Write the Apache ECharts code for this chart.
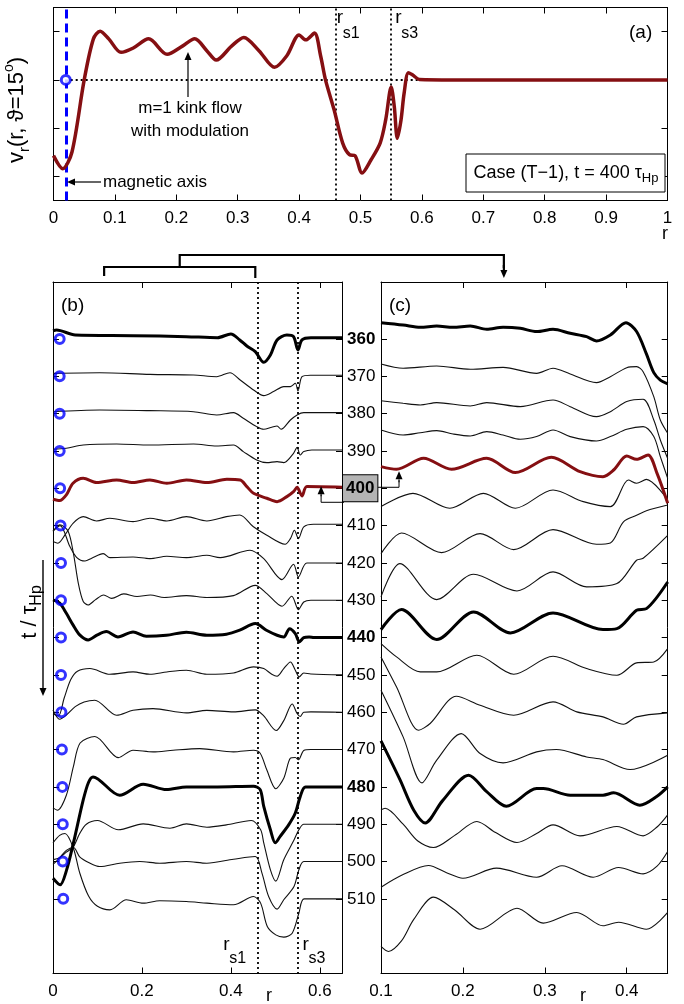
<!DOCTYPE html>
<html>
<head>
<meta charset="utf-8">
<script src="https://cdn.jsdelivr.net/npm/echarts@6/dist/echarts.min.js"></script>
<style>
html,body{margin:0;padding:0;background:#fff;}
#chart{width:684px;height:1004px;}
</style>
</head>
<body>
<div id="chart"></div>
<script>
// ================= DATA =================
const rS1 = 0.455, rS3 = 0.55;          // rational surfaces
const magAxisA = 0.02;                  // magnetic axis position, panel (a)

// panel (a): v_r(r, theta=15deg) at t = 400
const profileA = [[0,-1.57],[0.015,-1.84],[0.03,-1.5],[0.05,0],[0.065,0.85],[0.076,1.01],[0.09,0.85],[0.11,0.57],[0.13,0.66],[0.155,0.85],[0.185,0.53],[0.21,0.7],[0.23,0.85],[0.25,0.6],[0.265,0.41],[0.29,0.7],[0.31,0.88],[0.335,0.6],[0.36,0.26],[0.38,0.5],[0.4,0.93],[0.411,0.83],[0.425,0.97],[0.435,0.5],[0.443,0],[0.457,-0.62],[0.471,-1.31],[0.482,-1.55],[0.491,-1.57],[0.5025,-1.93],[0.517,-1.66],[0.532,-1.31],[0.541,-0.83],[0.55,-0.15],[0.555,-0.55],[0.56,-1.21],[0.566,-0.83],[0.571,-0.28],[0.578,0.15],[0.585,0.1],[0.596,0.01],[0.65,0],[1,0]];

const times = [360,370,380,390,400,410,420,430,440,450,460,470,480,490,500,510];
const boldTimes = [360,400,440,480];
const highlightTime = 400;
const magAxisB = [0.015,0.015,0.015,0.015,0.016,0.017,0.018,0.018,0.018,0.018,0.019,0.02,0.021,0.022,0.022,0.023];

// panel (b): profiles over 0 <= r <= 0.65
const b360 = [[0,0.89],[0.008,0.96],[0.05,0.43],[0.18,0.36],[0.3,0.25],[0.37,0.14],[0.4,0.54],[0.42,-0.1],[0.436,-0.75],[0.455,-1.36],[0.474,-2.5],[0.489,-1.71],[0.504,-0.1],[0.526,0.43],[0.541,0.25],[0.551,-1.18],[0.56,-0.1],[0.58,0.12],[0.65,0.12]];
const b370 = [[0,0.32],[0.105,0.39],[0.218,0.21],[0.316,0.14],[0.368,-0.04],[0.398,0.39],[0.421,-0.39],[0.451,-1.46],[0.474,-2.07],[0.496,-1.64],[0.519,-1.1],[0.534,-1.1],[0.545,-0.75],[0.551,-1.57],[0.56,-0.04],[0.579,0.12],[0.65,0.12]];
const b380 = [[0,0.21],[0.105,0.39],[0.218,0.32],[0.316,0.21],[0.368,-0.14],[0.406,0.11],[0.428,-0.5],[0.458,-1.39],[0.474,-1.68],[0.492,-1.46],[0.504,-1.32],[0.513,-1.68],[0.534,-0.68],[0.549,-0.14],[0.564,0.11],[0.65,0.11]];
const b390 = [[0,0.18],[0.03,0.29],[0.068,0.64],[0.143,0.75],[0.218,0.64],[0.316,0.75],[0.368,0.54],[0.406,0.64],[0.428,-0.07],[0.458,-0.96],[0.481,-1.25],[0.504,-1.14],[0.519,-1.25],[0.541,-0.25],[0.549,0.39],[0.556,-0.43],[0.564,-0.07],[0.582,0.11],[0.65,0.11]];
const b400 = [[0,-1.18],[0.015,-1.32],[0.03,-0.71],[0.045,0.54],[0.068,1.07],[0.098,0.61],[0.143,0.89],[0.18,0.61],[0.218,0.89],[0.256,0.54],[0.3,0.89],[0.346,0.61],[0.391,0.96],[0.421,0.89],[0.436,0.18],[0.451,-0.54],[0.481,-1.07],[0.504,-1.43],[0.526,-0.89],[0.541,-0.36],[0.549,0.11],[0.56,-0.82],[0.571,0.18],[0.65,0.11]];
const b410 = [[0,-1.71],[0.011,-1.89],[0.027,-1.0],[0.045,0.25],[0.068,0.96],[0.098,0.5],[0.128,0.79],[0.18,0.43],[0.218,0.79],[0.256,0.5],[0.3,0.96],[0.346,0.5],[0.39,0.96],[0.42,1.14],[0.45,-0.1],[0.481,-1.04],[0.522,-2.0],[0.534,-1.39],[0.543,-0.5],[0.552,-1.39],[0.564,-0.14],[0.586,0.14],[0.65,0.14]];
const b420 = [[0,3.4],[0.016,4.0],[0.038,1.75],[0.053,0.6],[0.072,0.2],[0.087,0.5],[0.113,1.0],[0.128,0.57],[0.18,0.64],[0.218,0.46],[0.256,0.71],[0.3,0.57],[0.346,0.82],[0.376,0.57],[0.443,1.36],[0.474,0.46],[0.515,-1.79],[0.541,-0.14],[0.552,-1.5],[0.571,0],[0.65,0]];
const b430 = [[0,7.4],[0.015,8.1],[0.034,7.4],[0.046,5.0],[0.057,1.8],[0.068,-0.14],[0.079,-0.5],[0.095,0.04],[0.114,0.57],[0.132,0.2],[0.159,0.68],[0.189,0.4],[0.219,0.57],[0.25,0.3],[0.3,0.5],[0.346,0.3],[0.406,0.5],[0.455,1.6],[0.481,0.71],[0.515,-0.64],[0.537,0.43],[0.552,-1.0],[0.564,-0.18],[0.58,0],[0.65,0]];
const b440 = [[0,4.04],[0.015,3.7],[0.03,2.6],[0.045,1.36],[0.06,0.29],[0.079,-0.25],[0.1,0.29],[0.12,0.64],[0.146,0.07],[0.18,0.6],[0.21,0.14],[0.255,0.25],[0.3,0.57],[0.346,0.25],[0.39,0.36],[0.42,0.79],[0.455,1.5],[0.48,0.79],[0.504,0.25],[0.519,0.07],[0.532,0.96],[0.545,0.43],[0.554,-0.46],[0.564,0],[0.576,0.07],[0.587,0],[0.65,0]];
const b450 = [[0,-4.2],[0.012,-4.4],[0.025,-2.5],[0.04,-0.5],[0.055,0.4],[0.083,0.68],[0.128,0.07],[0.18,0.32],[0.218,0.07],[0.256,0.32],[0.3,0.5],[0.346,0.07],[0.406,0.2],[0.451,0.86],[0.474,0.68],[0.492,0.07],[0.504,-0.14],[0.519,0.68],[0.534,1.39],[0.545,0.5],[0.554,-0.21],[0.564,0.21],[0.58,0.1],[0.65,0]];
const b460 = [[0,0.25],[0.015,-0.75],[0.03,-0.3],[0.05,0.6],[0.07,1.1],[0.094,1.29],[0.143,-0.32],[0.18,0.21],[0.225,0.39],[0.3,-0.07],[0.346,0.2],[0.406,0.04],[0.455,0.25],[0.474,-0.4],[0.502,-1.96],[0.519,-0.9],[0.538,0.89],[0.549,-0.14],[0.556,-0.45],[0.564,0],[0.58,0.04],[0.65,0]];
const b470 = [[0,-6.25],[0.01,-6.5],[0.03,-4.9],[0.046,-1.8],[0.061,0.7],[0.094,1.4],[0.147,-0.86],[0.18,-0.07],[0.225,-0.25],[0.27,-0.07],[0.33,0.1],[0.406,-0.25],[0.451,-0.07],[0.466,-0.4],[0.481,-2.2],[0.501,-4.2],[0.519,-3.07],[0.534,-0.93],[0.545,-0.85],[0.552,-1.1],[0.564,-0.1],[0.58,0],[0.65,0]];
const b480 = [[0,-9.8],[0.016,-10.5],[0.03,-9.0],[0.046,-6.0],[0.068,-1.4],[0.08,0.5],[0.09,1.07],[0.15,-0.9],[0.203,0.29],[0.255,-0.29],[0.3,0],[0.37,0],[0.451,0.07],[0.466,-0.3],[0.474,-2.1],[0.489,-4.6],[0.5,-6.0],[0.511,-5.3],[0.53,-4.07],[0.545,-2.8],[0.556,-1.04],[0.568,0],[0.65,0]];
const b490 = [[0,-3.8],[0.015,-3.6],[0.03,-3.0],[0.046,-2.4],[0.06,-1.0],[0.075,0],[0.1,0.39],[0.147,-0.6],[0.203,0.04],[0.263,-0.43],[0.3,0.04],[0.346,-0.32],[0.39,-0.07],[0.446,0.4],[0.467,-0.6],[0.474,-2.0],[0.489,-4.9],[0.501,-6.1],[0.519,-3.8],[0.542,-1.7],[0.553,-0.6],[0.564,0],[0.65,0]];
const b500 = [[0,-0.3],[0.015,0.4],[0.03,1.2],[0.046,1.5],[0.06,0.5],[0.08,-0.1],[0.105,-0.54],[0.15,-0.18],[0.195,0],[0.24,-0.18],[0.3,0],[0.346,-0.18],[0.406,0.25],[0.455,0.54],[0.47,-1.25],[0.485,-3.75],[0.504,-5.1],[0.519,-4.1],[0.542,-2.68],[0.553,-0.89],[0.564,0],[0.65,0]];
const b510 = [[0,6.0],[0.015,6.8],[0.027,7.0],[0.046,5.4],[0.06,2.8],[0.08,0.3],[0.1,-0.8],[0.128,-1.18],[0.165,-0.1],[0.203,-0.46],[0.24,-0.2],[0.3,-0.29],[0.346,-0.46],[0.406,-0.64],[0.451,0.25],[0.467,-0.46],[0.482,-2.96],[0.501,-3.86],[0.519,-4.1],[0.538,-3.68],[0.553,-1.54],[0.565,0],[0.65,0]];

// panel (c): enlarged profiles over 0.1 <= r <= 0.45
const c360 = [[0.1,1.75],[0.127,1.5],[0.148,1.25],[0.168,1.39],[0.188,1.25],[0.209,1.39],[0.229,1.04],[0.249,1.25],[0.27,1.14],[0.29,0.79],[0.31,1.04],[0.331,0.61],[0.351,0.25],[0.363,-0.21],[0.38,0.43],[0.399,1.75],[0.412,0.8],[0.424,-1.6],[0.433,-3.6],[0.441,-4.4],[0.45,-4.8]];
const c370 = [[0.1,1.32],[0.127,0.86],[0.168,1.11],[0.209,0.75],[0.249,0.96],[0.29,0.32],[0.31,0.86],[0.331,0.25],[0.363,-0.68],[0.38,-0.04],[0.4,0.93],[0.412,1.04],[0.42,0.5],[0.433,-2.18],[0.441,-4.68],[0.45,-6.1]];
const c380 = [[0.1,1.39],[0.127,1.11],[0.148,0.93],[0.168,1.18],[0.209,0.82],[0.229,1.18],[0.27,0.75],[0.31,1.46],[0.331,0.75],[0.363,-0.32],[0.38,0.21],[0.4,1.29],[0.42,1.54],[0.433,-0.68],[0.441,-2.82],[0.45,-4.8]];
const c390 = [[0.1,2.25],[0.127,1.71],[0.148,1.96],[0.168,2.18],[0.188,1.82],[0.209,1.61],[0.229,2.07],[0.249,1.71],[0.27,1.25],[0.29,1.54],[0.31,2.25],[0.331,1.54],[0.363,1.07],[0.38,1.54],[0.4,2.32],[0.42,2.61],[0.433,1.54],[0.441,-0.61],[0.45,-2.93]];
const c400 = [[0.1,2.32],[0.119,2.04],[0.152,3.21],[0.186,2.04],[0.229,3.21],[0.264,1.68],[0.308,3.32],[0.343,1.79],[0.371,1.25],[0.384,1.96],[0.4,3.46],[0.412,3.1],[0.426,3.57],[0.437,1.6],[0.45,-1.6]];
const c410 = [[0.1,2.04],[0.139,3.46],[0.184,1.86],[0.225,3.46],[0.264,1.86],[0.31,3.82],[0.347,2.57],[0.38,2.04],[0.402,4.89],[0.412,4.54],[0.424,4.96],[0.45,2.75]];
const c420 = [[0.1,1.0],[0.125,3.21],[0.174,1.11],[0.221,3.14],[0.262,1.43],[0.31,3.57],[0.363,2.0],[0.38,2.14],[0.396,4.4],[0.412,5.1],[0.424,5.6],[0.45,6.2]];
const c430 = [[0.1,0.36],[0.123,3.93],[0.168,0.07],[0.213,2.79],[0.266,1.0],[0.31,3.04],[0.351,1.43],[0.388,1.79],[0.412,4.29],[0.42,4.5],[0.45,6.96]];
const c440 = [[0.1,0.86],[0.125,3.0],[0.168,-0.21],[0.213,2.75],[0.258,0.5],[0.31,2.64],[0.371,0.86],[0.388,0.96],[0.412,2.93],[0.424,3.1],[0.45,5.96]];
const c450 = [[0.1,3.36],[0.119,1.93],[0.148,0.32],[0.168,0.32],[0.217,2.11],[0.262,0.07],[0.31,2.0],[0.351,0.68],[0.388,-0.04],[0.412,1.29],[0.433,1.39],[0.45,2.82]];
const c460 = [[0.1,5.93],[0.119,2.71],[0.146,-1.93],[0.16,-1.21],[0.192,1.71],[0.221,0.75],[0.262,-0.32],[0.31,1.11],[0.339,0.04],[0.371,-0.5],[0.396,-1.29],[0.412,-0.5],[0.45,-0.07]];
const c470 = [[0.1,6.36],[0.127,1.36],[0.15,-3.57],[0.168,-1.14],[0.198,1.71],[0.221,-0.43],[0.249,-1.43],[0.29,-0.25],[0.314,0],[0.351,-0.79],[0.371,-1.07],[0.404,-2.14],[0.45,-0.61]];
const c480 = [[0.1,4.93],[0.123,0.8],[0.14,-2.5],[0.154,-3.86],[0.175,-1.5],[0.207,1.25],[0.229,-0.5],[0.253,-2.07],[0.29,-0.18],[0.298,-0.18],[0.331,-0.89],[0.371,-0.89],[0.384,-0.64],[0.416,-1.96],[0.437,-1.0],[0.45,0]];
const c490 = [[0.1,1.54],[0.105,1.71],[0.127,0],[0.145,-1.8],[0.164,-2.5],[0.19,-1.2],[0.217,0.29],[0.24,-0.9],[0.266,-1.96],[0.29,-1.0],[0.31,-0.07],[0.343,-1.25],[0.388,-0.25],[0.42,-1.25],[0.437,-0.3],[0.45,1.0]];
const c500 = [[0.1,-2.75],[0.127,-1.4],[0.158,-0.43],[0.18,-1.2],[0.2,-1.79],[0.241,-0.71],[0.29,-1.68],[0.321,-0.46],[0.359,-1.68],[0.39,-0.64],[0.42,-1.32],[0.437,-0.5],[0.45,1.07]];
const c510 = [[0.1,-5.1],[0.109,-5.64],[0.125,-4.5],[0.14,-2.2],[0.164,0.18],[0.19,-1.2],[0.221,-3.25],[0.266,-1.0],[0.298,-2.6],[0.339,-1.46],[0.371,-2.89],[0.39,-2.5],[0.424,-3.25],[0.45,-1.46]];

// ticks
const yTicksA = [-2,-1,0,1];

// ================= CHART =================
const profilesB = {360:b360,370:b370,380:b380,390:b390,400:b400,410:b410,420:b420,430:b430,440:b440,450:b450,460:b460,470:b470,480:b480,490:b490,500:b500,510:b510};
const profilesC = {360:c360,370:c370,380:c380,390:c390,400:c400,410:c410,420:c420,430:c430,440:c440,450:c450,460:c460,470:c470,480:c480,490:c490,500:c500,510:c510};

const FONT = '"Liberation Sans", Arial, Helvetica, sans-serif';
const RED = '#850f12';
const BLUE = '#0000ff';
const AMP = 2.5;              // vertical offset units per unit of v in the waterfall panels
const T_MIN = 344.73, T_MAX = 530.0;

const chart = echarts.init(document.getElementById('chart'));

const tick = {show:true, inside:true, length:6, lineStyle:{color:'#000', width:1}};
const aline = {show:true, onZero:false, lineStyle:{color:'#000', width:1}};
const lab = {color:'#000', fontSize:17, fontFamily:FONT, margin:9};

function xAx(grid, pos, min, max, interval, showLabel) {
  return {type:'value', gridIndex:grid, position:pos, min:min, max:max, interval:interval,
    axisLine:aline, axisTick:tick, splitLine:{show:false},
    axisLabel: showLabel ? Object.assign({}, lab, {showMaxLabel:false}) : {show:false}};
}
function yAxT(grid, pos) {
  return {type:'value', gridIndex:grid, position:pos, min:T_MIN, max:T_MAX, inverse:true,
    axisLine:aline, axisTick:Object.assign({}, tick, {customValues:times}), splitLine:{show:false},
    axisLabel:{show:false}};
}

const xAxes = [
  Object.assign(xAx(0,'bottom',0,1,0.1,true), {axisLabel:Object.assign({}, lab)}),
  xAx(0,'top',0,1,0.1,false),
  xAx(1,'bottom',0,0.65,0.2,true),
  xAx(1,'top',0,0.65,0.2,false),
  xAx(2,'bottom',0.1,0.45,0.1,true),
  xAx(2,'top',0.1,0.45,0.1,false)
];
const yAxes = [
  {type:'value', gridIndex:0, position:'left', min:-2.5, max:1.5, axisLine:aline,
   axisTick:Object.assign({}, tick, {customValues:yTicksA}), axisLabel:{show:false}, splitLine:{show:false}},
  {type:'value', gridIndex:0, position:'right', min:-2.5, max:1.5, axisLine:aline,
   axisTick:Object.assign({}, tick, {customValues:yTicksA}), axisLabel:{show:false}, splitLine:{show:false}},
  yAxT(1,'left'),
  Object.assign(yAxT(1,'right'), {axisLabel:{show:true, customValues:times, margin:1,
    formatter: function(v){ const t = Math.round(v);
      if (t === highlightTime) return '{box|' + t + '}';
      if (boldTimes.indexOf(t) >= 0) return '{bold|' + t + '}';
      return '{norm|' + t + '}'; },
    rich:{
      norm:{fontSize:17, color:'#000', fontFamily:FONT, padding:[0,0,0,4]},
      bold:{fontSize:17, color:'#000', fontFamily:FONT, fontWeight:'bold', padding:[0,0,0,4]},
      box:{fontSize:17, color:'#000', fontFamily:FONT, fontWeight:'bold', backgroundColor:'#b4b4b4',
           borderColor:'#000', borderWidth:1, padding:[5,3,4,3]}
    }}}),
  yAxT(2,'left'),
  yAxT(2,'right')
];

const dotted = {type:[2,3], color:'#000', width:1.8};
const circleStyle = {color:'rgba(255,255,255,0)', borderColor:BLUE, borderWidth:3};
const series = [];

series.push({type:'line', name:'a', xAxisIndex:0, yAxisIndex:0, data:profileA, smooth:0.3,
  symbol:'none', lineStyle:{color:RED, width:3.5}, z:5,
  markLine:{silent:true, symbol:['none','none'], label:{show:false}, animation:false,
    data:[
      {xAxis:rS1, lineStyle:dotted},
      {xAxis:rS3, lineStyle:dotted},
      [{coord:[0.028,0], lineStyle:dotted},{coord:[1,0]}],
      {xAxis:magAxisA, lineStyle:{type:[9,5], color:BLUE, width:3}}
    ]}});
series.push({type:'scatter', xAxisIndex:0, yAxisIndex:0, data:[[magAxisA,0]],
  symbol:'circle', symbolSize:9, itemStyle:{color:'#fff', borderColor:BLUE, borderWidth:3}, z:10});

function styleFor(t) {
  if (t === highlightTime) return {color:RED, width:3};
  if (boldTimes.indexOf(t) >= 0) return {color:'#000', width:3};
  return {color:'#111', width:1.1};
}
times.forEach(function(t, i) {
  const st = styleFor(t);
  const zz = t === highlightTime ? 5 : (boldTimes.indexOf(t) >= 0 ? 4 : 3);
  const sB = {type:'line', xAxisIndex:2, yAxisIndex:2, smooth:0.3, symbol:'none', z:zz,
    lineStyle:st, data:profilesB[t].map(function(p){ return [p[0], t - AMP*p[1]]; })};
  if (i === 0) {
    sB.markLine = {silent:true, symbol:['none','none'], label:{show:false}, animation:false,
      data:[{xAxis:rS1, lineStyle:dotted},{xAxis:rS3, lineStyle:dotted}]};
  }
  series.push(sB);
  series.push({type:'line', xAxisIndex:4, yAxisIndex:4, smooth:0.3, symbol:'none', z:zz,
    lineStyle:st, data:profilesC[t].map(function(p){ return [p[0], t - AMP*p[1]]; })});
});
series.push({type:'scatter', xAxisIndex:2, yAxisIndex:2,
  data:times.map(function(t,i){ return [magAxisB[i], t]; }),
  symbol:'circle', symbolSize:9, itemStyle:circleStyle, z:10});

chart.setOption({
  animation:false,
  backgroundColor:'#fff',
  textStyle:{fontFamily:FONT},
  grid:[
    {left:53.5, top:7.5, width:614, height:193},
    {left:53, top:282, width:289, height:691.5},
    {left:381, top:282, width:286.7, height:691.5}
  ],
  xAxis:xAxes, yAxis:yAxes, series:series
});

// ================= ANNOTATIONS =================
function P(xi, yi, pt) { return chart.convertToPixel({xAxisIndex:xi, yAxisIndex:yi}, pt); }
function txt(x, y, text, opt) {
  return {type:'text', x:x, y:y, z:50, rotation:(opt && opt.rot) || 0,
    style:Object.assign({text:text, fill:'#000', fontSize:17, fontFamily:FONT, align:'left', verticalAlign:'middle'}, (opt && opt.style) || {})};
}
function arrow(x1, y1, x2, y2, lw) {
  const L = 8, W = 3.5;
  const dx = x2 - x1, dy = y2 - y1, d = Math.sqrt(dx*dx + dy*dy), ux = dx/d, uy = dy/d;
  const bx = x2 - ux*L, by = y2 - uy*L;
  return [
    {type:'line', z:50, shape:{x1:x1, y1:y1, x2:bx, y2:by}, style:{stroke:'#000', lineWidth:lw || 1.2}},
    {type:'polygon', z:50, shape:{points:[[x2,y2],[bx - uy*W, by + ux*W],[bx + uy*W, by - ux*W]]}, style:{fill:'#000'}}
  ];
}

const g = [];
// panel tags
g.push(txt(629, 33, '(a)', {style:{fontSize:19}}));
g.push(txt(61, 306, '(b)', {style:{fontSize:19}}));
g.push(txt(389, 306, '(c)', {style:{fontSize:19}}));

// rs labels panel (a)
[[rS1,'s1'],[rS3,'s3']].forEach(function(a){
  const x = P(0,0,[a[0],0])[0];
  g.push(txt(x + 4, 18, 'r', {style:{fontSize:19}}));
  g.push(txt(x + 10, 34, a[1], {style:{fontSize:16}}));
});
// rs labels panel (b)
(function(){
  const x1 = P(2,2,[rS1,400])[0], x3 = P(2,2,[rS3,400])[0];
  g.push(txt(x1 - 32, 945, 'r', {style:{fontSize:19}}));
  g.push(txt(x1 - 26, 959, 's1', {style:{fontSize:16}}));
  g.push(txt(x3 + 5, 945, 'r', {style:{fontSize:19}}));
  g.push(txt(x3 + 11, 959, 's3', {style:{fontSize:16}}));
})();

// y label panel (a)
g.push({type:'text', x:17, y:110, rotation:Math.PI/2, z:50,
  style:{text:'{t|v}{s|r}{t|(r, \u03D1=15}{p|o}{t|)}', align:'center', verticalAlign:'middle', fill:'#000',
    rich:{t:{fontSize:22, fontFamily:FONT, lineHeight:30, fill:'#000'},
          s:{fontSize:15, fontFamily:FONT, verticalAlign:'bottom', lineHeight:16, fill:'#000'},
          p:{fontSize:14, fontFamily:FONT, verticalAlign:'top', lineHeight:14, fill:'#000'}}}});

// kink annotation
g.push(txt(190, 108, 'm=1 kink flow', {style:{align:'center'}}));
g.push(txt(190, 131, 'with modulation', {style:{align:'center'}}));
arrow(188, 97, 188, 52).forEach(function(e){ g.push(e); });
// magnetic axis
g.push(txt(103, 182, 'magnetic axis'));
arrow(101, 182, 67, 182).forEach(function(e){ g.push(e); });
// case box
g.push({type:'rect', z:49, shape:{x:466, y:154, width:199, height:38}, style:{fill:'#fff', stroke:'#000', lineWidth:1}});
g.push({type:'text', x:566, y:173, z:50,
  style:{text:'{t|Case (T\u22121), t = 400 \u03C4}{s|Hp}', align:'center', verticalAlign:'middle',
    rich:{t:{fontSize:18, fontFamily:FONT, lineHeight:24, fill:'#000'},
          s:{fontSize:13, fontFamily:FONT, verticalAlign:'bottom', lineHeight:13, fill:'#000'}}}});

// axis names r
g.push(txt(665, 234, 'r', {style:{align:'center', fontSize:18}}));
g.push(txt(269, 996, 'r', {style:{align:'center', fontSize:18}}));
g.push(txt(583, 996, 'r', {style:{align:'center', fontSize:18}}));

// time label and arrow
g.push({type:'text', x:30, y:612, rotation:Math.PI/2, z:50,
  style:{text:'{t|t / \u03C4}{s|Hp}', align:'center', verticalAlign:'middle',
    rich:{t:{fontSize:22, fontFamily:FONT, lineHeight:30, fill:'#000'},
          s:{fontSize:16, fontFamily:FONT, verticalAlign:'bottom', lineHeight:16, fill:'#000'}}}});
arrow(43, 560, 43, 696, 1.4).forEach(function(e){ g.push(e); });

// brackets linking (b) to (c)
(function(){
  const xa = P(2,2,[0.115,400])[0], xb = P(2,2,[rS1,400])[0];
  const xm = (xa + xb) / 2;
  const xc = P(4,4,[0.25,400])[0];
  g.push({type:'polyline', z:50, shape:{points:[[xa,276],[xa,267],[xb,267],[xb,278]]}, style:{stroke:'#000', lineWidth:2.2, fill:null}});
  g.push({type:'polyline', z:50, shape:{points:[[xm,267],[xm,255],[xc,255],[xc,268]]}, style:{stroke:'#000', lineWidth:2.2, fill:null}});
  arrow(xc, 265, xc, 278, 2.2).forEach(function(e){ g.push(e); });
})();

// arrows from the highlighted label
(function(){
  const y = P(2,2,[0,highlightTime])[1];
  const xL = P(2,2,[0.603,highlightTime])[0];
  const xR = P(4,4,[0.122,highlightTime])[0];
  g.push({type:'polyline', z:50, shape:{points:[[344,y+14],[xL,y+14],[xL,y+6]]}, style:{stroke:'#000', lineWidth:1, fill:null}});
  arrow(xL, y+8, xL, y-2, 1).forEach(function(e){ g.push(e); });
  g.push({type:'polyline', z:50, shape:{points:[[378,y-1],[xR,y-1],[xR,y-8]]}, style:{stroke:'#000', lineWidth:1, fill:null}});
  arrow(xR, y-6, xR, y-17, 1).forEach(function(e){ g.push(e); });
})();

chart.setOption({graphic:g});
</script>
</body>
</html>
